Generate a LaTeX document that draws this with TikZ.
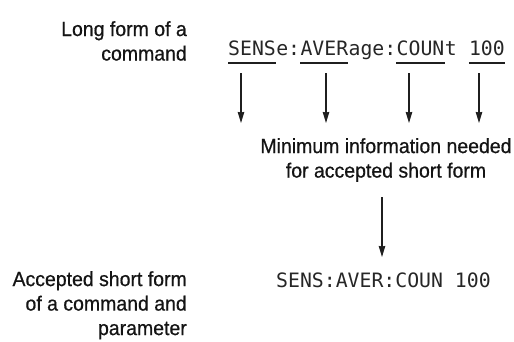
\documentclass[tikz,border=0pt]{standalone}
\usepackage{fontspec}
\setmainfont[FakeStretch=0.95,FakeBold=0.6]{Liberation Sans}
\setmonofont{DejaVu Sans Mono}
\usetikzlibrary{arrows.meta}
\begin{document}
\begin{tikzpicture}[x=1pt,y=-1pt,
  lab/.style={font=\fontsize{20.5}{24.5}\selectfont, inner sep=0pt, text=black!92},
  mono/.style={font=\ttfamily\fontsize{19.8}{22}\selectfont, inner sep=0pt, text depth=0pt, text=black!85, anchor=base west},
  arr/.style={line width=1.1pt, draw=black!88, -{Stealth[length=11pt,width=6.5pt,inset=0.5pt]}},
  uline/.style={line width=1.4pt, draw=black!88}]
\useasboundingbox (0,0) rectangle (514,341);
% left labels
\node[lab, anchor=north east, align=right] (lab1) at (187,21) {Long form of a\\command};
\node[lab, anchor=north east, align=right] (lab2) at (187,271) {Accepted short form\\of a command and\\parameter};
% long form
\node[mono] (p1) at (228,55) {SENS};
\node[mono] (p1x) at (p1.base east) {e:};
\node[mono] (p2) at (p1x.base east) {AVER};
\node[mono] (p2x) at (p2.base east) {age:};
\node[mono] (p3) at (p2x.base east) {COUN};
\node[mono] (p3x) at (p3.base east) {t\phantom{0}};
\node[mono] (p4) at (p3x.base east) {100};
\foreach \p in {p1,p2,p3,p4}{
  \draw[uline] ([yshift=-8pt]\p.base west) -- ([yshift=-8pt]\p.base east);
}
% arrows down
\coordinate (a1s) at (241,73); \coordinate (a1e) at (241,123);
\coordinate (a2s) at (326,73); \coordinate (a2e) at (326,123);
\coordinate (a3s) at (409,73); \coordinate (a3e) at (409,123);
\coordinate (a4s) at (479,73); \coordinate (a4e) at (479,123);
\foreach \i in {1,...,4}{\draw[arr] (a\i s) -- (a\i e);}
% middle text
\node[lab, anchor=north, align=center] (mid) at (386,138) {Minimum information needed\\for accepted short form};
\coordinate (b1s) at (382,197); \coordinate (b1e) at (382,257);
\draw[arr] (b1s) -- (b1e);
% short form
\node[mono] (short) at (276,287) {SENS:AVER:COUN 100};
\end{tikzpicture}
\end{document}
